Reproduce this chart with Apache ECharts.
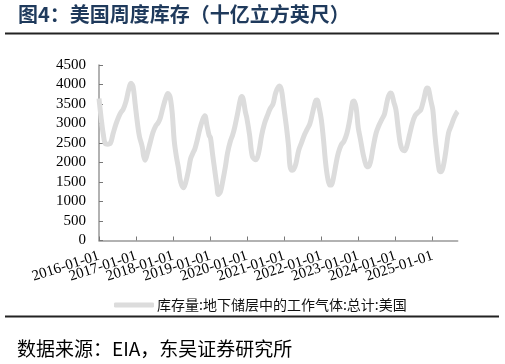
<!DOCTYPE html>
<html><head><meta charset="utf-8">
<script src="https://cdn.jsdelivr.net/npm/echarts@6/dist/echarts.min.js"></script>
<style>html,body{margin:0;padding:0;background:#fff}#c{width:505px;height:364px}</style>
</head><body><div id="c"></div>
<script>
const seriesName = '库存量:地下储层中的工作气体:总计:美国';
const dates = [
'2016-01-01','2016-01-22','2016-02-12','2016-03-04','2016-03-25','2016-04-22','2016-05-20','2016-06-17','2016-07-15','2016-08-05','2016-08-26','2016-09-23','2016-10-21','2016-11-11','2016-12-02','2016-12-23',
'2017-01-13','2017-02-03','2017-03-03','2017-03-17','2017-03-31','2017-04-21','2017-05-19','2017-06-16','2017-07-14','2017-08-04','2017-08-25','2017-09-22','2017-10-20','2017-11-10','2017-12-01','2017-12-22',
'2018-01-12','2018-02-02','2018-02-23','2018-03-16','2018-04-13','2018-05-04','2018-06-01','2018-06-22','2018-07-13','2018-08-03','2018-08-24','2018-09-21','2018-10-19','2018-11-09','2018-11-30','2018-12-21',
'2019-01-04','2019-01-25','2019-02-15','2019-03-08','2019-03-22','2019-04-12','2019-05-03','2019-05-31','2019-06-21','2019-07-19','2019-08-09','2019-08-30','2019-09-27','2019-10-25','2019-11-08','2019-11-22','2019-12-13','2019-12-27',
'2020-01-24','2020-02-21','2020-03-27','2020-04-24','2020-05-22','2020-06-19','2020-07-17','2020-08-14','2020-09-11','2020-10-09','2020-11-13','2020-12-04','2020-12-25',
'2021-01-22','2021-02-12','2021-02-26','2021-03-19','2021-04-02','2021-04-23','2021-05-21','2021-06-18','2021-07-16','2021-08-13','2021-09-10','2021-10-08','2021-11-05','2021-11-19','2021-12-10','2021-12-31',
'2022-01-21','2022-02-11','2022-03-04','2022-03-25','2022-04-08','2022-04-29','2022-05-27','2022-06-17','2022-07-15','2022-08-12','2022-09-09','2022-10-07','2022-11-04','2022-11-18','2022-12-09','2022-12-30',
'2023-01-20','2023-02-17','2023-03-17','2023-04-07','2023-04-28','2023-05-26','2023-06-23','2023-07-21','2023-08-18','2023-09-15','2023-10-13','2023-11-10','2023-11-24','2023-12-15',
'2024-01-05','2024-01-26','2024-02-16','2024-03-08','2024-03-29','2024-04-19','2024-05-17','2024-06-14','2024-07-12','2024-08-09','2024-09-06','2024-10-04','2024-11-08','2024-11-22','2024-12-13',
'2025-01-03','2025-01-24','2025-02-14','2025-03-07','2025-03-21','2025-04-11','2025-05-09','2025-06-06','2025-07-04','2025-08-01','2025-08-29','2025-09-05'
];
const values = [
3640,3140,2730,2480,2470,2490,2750,2990,3180,3290,3360,3560,3880,4030,3950,3500,
3040,2670,2400,2160,2060,2220,2500,2770,2940,3010,3120,3400,3650,3770,3690,3300,
2550,2150,1850,1500,1350,1480,1800,2100,2230,2350,2550,2860,3100,3200,2950,2700,
2630,2200,1800,1400,1180,1250,1500,1900,2250,2550,2700,2900,3250,3620,3690,3620,3300,3150,
2700,2150,2070,2270,2700,3000,3200,3380,3500,3800,3960,3850,3450,
2900,2400,1900,1800,1820,1950,2300,2500,2700,2850,3000,3300,3580,3600,3400,3100,
2600,2000,1600,1420,1420,1600,2000,2250,2450,2550,2750,3100,3550,3580,3400,2890,
2600,2200,1930,1890,2000,2400,2750,2950,3100,3250,3600,3780,3760,3550,
3350,2900,2500,2330,2300,2400,2700,3000,3200,3280,3350,3600,3910,3880,3600,
3350,2700,2200,1800,1760,1850,2250,2750,2950,3150,3290,3310
];
const yearTicks = [2016,2017,2018,2019,2020,2021,2022,2023,2024,2025];
const tickLabels = ['2016-01-01','2017-01-01','2018-01-01','2019-01-01','2020-01-01','2021-01-01','2022-01-01','2023-01-01','2024-01-01','2025-01-01'];

function toYear(s){
  const p = s.split('-').map(Number);
  const t = Date.UTC(p[0],p[1]-1,p[2]), a = Date.UTC(p[0],0,1), b = Date.UTC(p[0]+1,0,1);
  return p[0] + (t-a)/(b-a);
}
const data = dates.map((d,i)=>[toYear(d), values[i]]);
const evenYears = yearTicks.filter((y,i)=>i%2===0);
const oddYears = yearTicks.filter((y,i)=>i%2===1);

const chart = echarts.init(document.getElementById('c'), null, {renderer:'canvas'});
const serif = '"Liberation Serif", "Times New Roman", serif';
const cjk = '"Noto Sans CJK SC", sans-serif';
const xMax = toYear(dates[dates.length-1]);
function xLabel(vals, showLine){
  return {
    type:'value', min:2016, max:xMax, interval:1, position:'bottom',
    splitLine:{show:false},
    axisLine:{show:showLine, lineStyle:{color:'#999', width:1.5}},
    axisTick:{show:showLine, inside:true, length:4, lineStyle:{color:'#777'}, customValues:yearTicks},
    axisLabel:{customValues:vals, rotate:18, margin:15, color:'#000', fontFamily:serif, fontSize:15,
      showMinLabel:true, showMaxLabel:true, hideOverlap:false,
      formatter:v=>{const i=yearTicks.indexOf(Math.round(v)); return i>=0?tickLabels[i]:'';}}
  };
}
chart.setOption({
  animation:false,
  backgroundColor:'#fff',
  grid:{left:99, top:65, width:358.7, height:175.5},
  xAxis:[xLabel(evenYears, true), xLabel(oddYears, false)],
  yAxis:{
    type:'value', min:0, max:4500, interval:500,
    splitLine:{show:false},
    axisLine:{show:true, lineStyle:{color:'#999', width:1.5}},
    axisTick:{show:true, inside:true, length:4, lineStyle:{color:'#777'}},
    axisLabel:{margin:13, color:'#000', fontFamily:serif, fontSize:15, formatter:v=>String(v)}
  },
  legend:{
    data:[{name:seriesName, icon:'roundRect'}], left:109, top:293, itemWidth:40, itemHeight:5, itemGap:10,
    itemStyle:{color:'#dcdcdc'},
    textStyle:{fontFamily:cjk, fontSize:14, color:'#111', padding:[0,0,0,-2]}
  },
  series:[{
    name:seriesName, type:'line', xAxisIndex:0, data:data, showSymbol:false, symbol:'none', smooth:0.35,
    lineStyle:{color:'#dcdcdc', width:5}, itemStyle:{color:'#dcdcdc'}
  }],
  graphic:[
    {type:'text', left:18, top:4, style:{text:'图4：美国周度库存（十亿立方英尺）', fill:'#1f3a5c', font:'bold 20px "Noto Sans CJK SC", sans-serif'}},
    {type:'line', shape:{x1:5,y1:33.5,x2:499,y2:33.5}, style:{stroke:'#222', lineWidth:2}},
    {type:'line', shape:{x1:5,y1:316.5,x2:499,y2:316.5}, style:{stroke:'#222', lineWidth:2}},
    {type:'text', left:17, top:339, style:{text:'数据来源：EIA，东吴证券研究所', fill:'#000', font:'19px "Noto Sans CJK SC", sans-serif'}}
  ]
});
</script></body></html>
